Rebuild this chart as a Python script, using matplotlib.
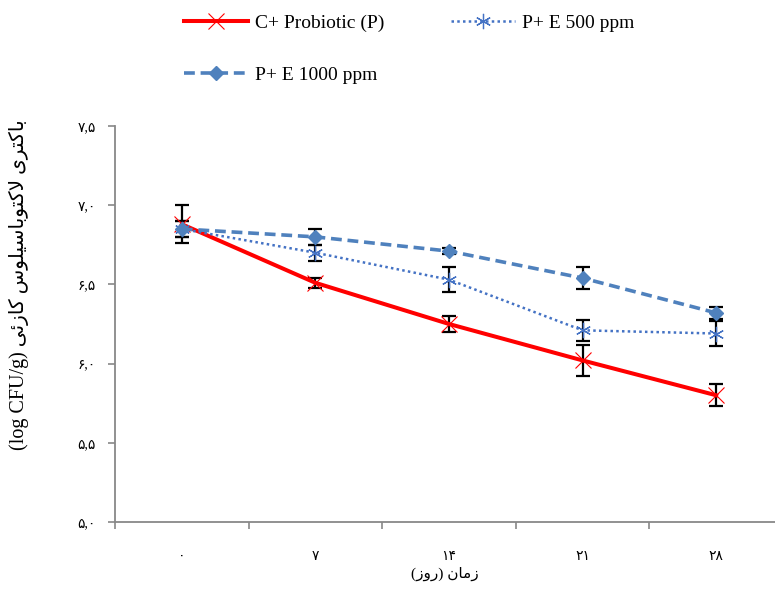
import matplotlib
matplotlib.use("Agg")
import matplotlib.pyplot as plt

# Persian text is written with Arabic presentation forms in visual order,
# since matplotlib does no shaping / bidi on its own.
days = ["۰", "۷", "۱۴", "۲۱", "۲۸"]
y_ticks = [5.0, 5.5, 6.0, 6.5, 7.0, 7.5]
y_tick_labels = ["۵,۰", "۵,۵", "۶,۰", "۶,۵", "۷,۰", "۷,۵"]

probiotic = [6.88, 6.51, 6.25, 6.02, 5.80]
probiotic_err = [0.12, 0.03, 0.05, 0.10, 0.07]
e500 = [6.85, 6.70, 6.53, 6.21, 6.19]
e500_err = [0.05, 0.05, 0.08, 0.065, 0.08]
e1000 = [6.85, 6.80, 6.71, 6.54, 6.32]
e1000_err = [0.05, 0.05, 0.02, 0.07, 0.04]

labels = ["C+ Probiotic (P)", "P+ E 500 ppm", "P+ E 1000 ppm"]

# "زمان (روز)"
x_title = "(\uFEAF\uFEED\uFEAD) \uFEE5\uFE8E\uFEE3\uFEAF"
# "باکتری لاکتوباسیلوس کازئی (log CFU/g)"
y_title = ("(log CFU/g) "
           "\uFBFD\uFE8B\uFEAF\uFE8E\uFB90 "
           "\uFEB1\uFEEE\uFEE0\uFBFF\uFEB3\uFE8E\uFE91\uFEEE\uFE98\uFB90\uFEFB "
           "\uFBFC\uFEAE\uFE98\uFB90\uFE8E\uFE91")

fam = ["Liberation Serif", "DejaVu Sans"]
plt.rcParams["font.family"] = fam

fig = plt.figure(figsize=(7.75, 5.9), dpi=100)
ax = fig.add_axes([115 / 775, 1 - 522 / 590, 1 - 115 / 775, (522 - 126) / 590])

x = list(range(len(days)))
red = "#FF0000"
c500 = "#4472C4"
c1000 = "#4F81BD"

for vals, errs in [(probiotic, probiotic_err), (e500, e500_err), (e1000, e1000_err)]:
    ax.errorbar(x, vals, yerr=errs, fmt="none", ecolor="black",
                elinewidth=1.6, capsize=5, capthick=1.6, zorder=2)

l1, = ax.plot(x, probiotic, color=red, lw=2.9, marker="x", ms=12, mew=0.8,
              zorder=3)
l2, = ax.plot(x, e500, color=c500, lw=1.8, ls=(0, (1, 1.3)), marker=(6, 2, 0),
              ms=11, mew=0.9, zorder=3)
l3, = ax.plot(x, e1000, color=c1000, lw=2.6, ls=(0, (3, 1.6)), marker="D",
              ms=7, zorder=4)

ax.set_xlim(-0.5, 4.44)
ax.set_ylim(5.0, 7.5)
ax.set_xticks(x)
ax.set_xticklabels(days, fontsize=10)
ax.set_xticks([-0.5, 0.5, 1.5, 2.5, 3.5], minor=True)
ax.tick_params(axis="x", which="major", length=0, pad=20)
ax.tick_params(axis="x", which="minor", length=5, width=1.2, color="#888888")
ax.set_yticks(y_ticks)
ax.set_yticklabels(y_tick_labels, fontsize=10)
ax.tick_params(axis="y", length=5, width=1.2, color="#888888", pad=9)

for s in ["top", "right"]:
    ax.spines[s].set_visible(False)
for s in ["left", "bottom"]:
    ax.spines[s].set_color("#888888")
    ax.spines[s].set_linewidth(1.3)

ax.set_xlabel(x_title, fontsize=11, labelpad=3)
ax.set_ylabel(y_title, fontsize=14.5)
ax.yaxis.set_label_coords(-0.13, 0.6)

fig.legend([l1, l3, l2], [labels[0], labels[2], labels[1]], ncol=2,
           loc="upper left", bbox_to_anchor=(0.215, 1.005), frameon=False,
           fontsize=14, handlelength=3.3, handletextpad=0.35,
           columnspacing=3.4, labelspacing=1.75)

fig.savefig("out.png", dpi=100)
